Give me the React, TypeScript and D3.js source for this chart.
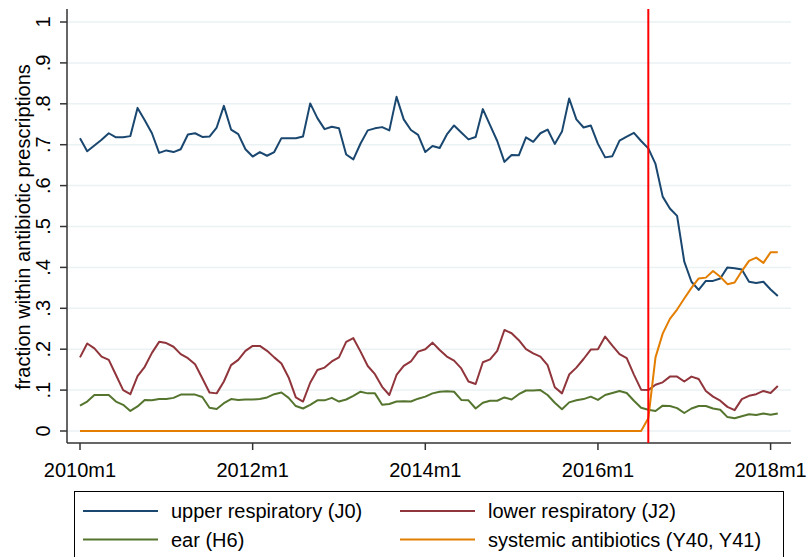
import React from "react";
import * as d3 from "d3";

// monthly shares, 2010m1 .. 2018m2
const upperResp = [
  0.716, 0.684, 0.698, 0.712, 0.728, 0.718, 0.718, 0.721, 0.79, 0.76, 0.728, 0.68,
  0.686, 0.682, 0.689, 0.725, 0.728, 0.719, 0.72, 0.742, 0.795, 0.737, 0.726, 0.689,
  0.671, 0.682, 0.673, 0.682, 0.716, 0.716, 0.716, 0.72, 0.801, 0.765, 0.738, 0.744,
  0.74, 0.676, 0.664, 0.703, 0.735, 0.74, 0.743, 0.735, 0.817, 0.762, 0.736, 0.724,
  0.682, 0.697, 0.692, 0.725, 0.747, 0.73, 0.713, 0.719, 0.787, 0.748, 0.709, 0.658,
  0.675, 0.674, 0.718, 0.707, 0.728, 0.737, 0.702, 0.732, 0.813, 0.762, 0.742, 0.747,
  0.702, 0.669, 0.672, 0.71, 0.72, 0.729, 0.709, 0.691, 0.653, 0.573, 0.544, 0.526,
  0.414, 0.365, 0.345, 0.367, 0.367, 0.373, 0.4, 0.398, 0.395, 0.365, 0.362, 0.365,
  0.346, 0.33,
];
const lowerResp = [
  0.18, 0.214, 0.202, 0.182, 0.174, 0.137, 0.1, 0.09, 0.134, 0.157, 0.191, 0.218,
  0.215, 0.206, 0.188, 0.178, 0.163, 0.129, 0.094, 0.092, 0.121, 0.161, 0.174, 0.196,
  0.208, 0.208, 0.196, 0.18, 0.165, 0.131, 0.082, 0.072, 0.118, 0.149, 0.155, 0.17,
  0.18, 0.218, 0.227, 0.194, 0.159, 0.139, 0.108, 0.088, 0.137, 0.159, 0.17, 0.194,
  0.2, 0.216, 0.198, 0.182, 0.172, 0.153, 0.121, 0.115, 0.168, 0.175, 0.196, 0.247,
  0.239, 0.222, 0.2, 0.19, 0.182, 0.161, 0.107, 0.092, 0.138, 0.155, 0.176, 0.199,
  0.2, 0.231, 0.209, 0.188, 0.178, 0.138, 0.101, 0.1, 0.113, 0.119, 0.133, 0.133,
  0.121, 0.133, 0.127, 0.098, 0.084, 0.074, 0.059, 0.051, 0.078, 0.086, 0.09, 0.098,
  0.093, 0.11,
];
const ear = [
  0.062, 0.072, 0.088, 0.088, 0.088, 0.072, 0.064, 0.049, 0.06, 0.076, 0.075, 0.078,
  0.078, 0.081, 0.089, 0.089, 0.089, 0.083, 0.057, 0.054, 0.068, 0.078, 0.076, 0.077,
  0.077, 0.078, 0.082, 0.09, 0.094, 0.081, 0.061, 0.055, 0.064, 0.075, 0.075, 0.081,
  0.072, 0.077, 0.086, 0.096, 0.092, 0.092, 0.064, 0.066, 0.072, 0.073, 0.072, 0.079,
  0.084, 0.092, 0.096, 0.097, 0.096, 0.076, 0.075, 0.055, 0.069, 0.074, 0.074, 0.082,
  0.077, 0.09, 0.099, 0.099, 0.1, 0.088, 0.069, 0.053, 0.07, 0.075, 0.078, 0.084,
  0.076, 0.088, 0.093, 0.098, 0.093, 0.074, 0.057, 0.052, 0.049, 0.062, 0.061, 0.056,
  0.044, 0.055, 0.061, 0.061, 0.055, 0.052, 0.034, 0.031, 0.036, 0.041, 0.039, 0.043,
  0.04, 0.043,
];
const systemic = [
  0, 0, 0, 0, 0, 0, 0, 0, 0, 0, 0, 0,
  0, 0, 0, 0, 0, 0, 0, 0, 0, 0, 0, 0,
  0, 0, 0, 0, 0, 0, 0, 0, 0, 0, 0, 0,
  0, 0, 0, 0, 0, 0, 0, 0, 0, 0, 0, 0,
  0, 0, 0, 0, 0, 0, 0, 0, 0, 0, 0, 0,
  0, 0, 0, 0, 0, 0, 0, 0, 0, 0, 0, 0,
  0, 0, 0, 0, 0, 0, 0, 0.031, 0.18, 0.238, 0.274, 0.297,
  0.324, 0.35, 0.373, 0.375, 0.391, 0.377, 0.359, 0.363, 0.391, 0.416, 0.424, 0.411,
  0.437, 0.437,
];

const seriesNames = [
  "upper respiratory (J0)",
  "lower respiratory (J2)",
  "ear (H6)",
  "systemic antibiotics (Y40, Y41)",
];
const xTickMonths = [0, 24, 48, 72, 96];
const xTickLabels = ["2010m1", "2012m1", "2014m1", "2016m1", "2018m1"];
const yTicks = [0, 0.1, 0.2, 0.3, 0.4, 0.5, 0.6, 0.7, 0.8, 0.9, 1];
const yTickLabels = ["0", ".1", ".2", ".3", ".4", ".5", ".6", ".7", ".8", ".9", "1"];
const policyMonth = 79; // 2016m8

const W = 808;
const H = 557;
const FONT = "'Liberation Sans', Arial, sans-serif";

export default function App() {
  const left = 67;
  const right = 791;
  const bottom = 443;

  const x = d3.scaleLinear().domain([0, 96]).range([80, 770.6]);
  const y = d3.scaleLinear().domain([0, 1]).range([431, 22]);

  const colors = d3
    .scaleOrdinal<string, string>()
    .domain(seriesNames)
    .range(["#1a476f", "#90353b", "#55752f", "#e37e00"]);

  const allSeries = [upperResp, lowerResp, ear, systemic];
  const line = d3
    .line<number>()
    .x((_, i) => x(i))
    .y((d) => y(d));

  // legend: two columns, two rows
  const legendCols = [83, 400];
  const legendRows = [511, 539.5];

  return (
    <svg
      width={W}
      height={H}
      style={{ position: "absolute", left: 0, top: 0, background: "#fff" }}
      fontFamily={FONT}
    >
      {/* grid */}
      {yTicks.map((t) => (
        <line key={"g" + t} x1={left} x2={right} y1={y(t)} y2={y(t)} stroke="#eaf2f3" strokeWidth={1.5} />
      ))}

      {/* y axis */}
      <line x1={left} x2={left} y1={9} y2={bottom} stroke="#333" strokeWidth={1.5} />
      {yTicks.map((t, i) => (
        <g key={"y" + t}>
          <line x1={left - 7} x2={left} y1={y(t)} y2={y(t)} stroke="#333" strokeWidth={1.5} />
          <text
            transform={`translate(50,${y(t)}) rotate(-90)`}
            textAnchor="middle"
            fontSize={20}
            fill="#000"
          >
            {yTickLabels[i]}
          </text>
        </g>
      ))}
      <text
        transform="translate(29.5,227) rotate(-90)"
        textAnchor="middle"
        fontSize={20}
        fill="#000"
      >
        fraction within antibiotic prescriptions
      </text>

      {/* x axis */}
      <line x1={left} x2={right} y1={bottom} y2={bottom} stroke="#333" strokeWidth={1.5} />
      {xTickMonths.map((m, i) => (
        <g key={"x" + m}>
          <line x1={x(m)} x2={x(m)} y1={bottom} y2={bottom + 7} stroke="#333" strokeWidth={1.5} />
          <text x={x(m)} y={476.5} textAnchor="middle" fontSize={20} fill="#000">
            {xTickLabels[i]}
          </text>
        </g>
      ))}

      {/* series */}
      {allSeries.map((s, i) => (
        <path
          key={seriesNames[i]}
          d={line(s) || ""}
          fill="none"
          stroke={colors(seriesNames[i])}
          strokeWidth={2}
          strokeLinejoin="round"
        />
      ))}

      {/* policy line */}
      <line
        x1={x(policyMonth)}
        x2={x(policyMonth)}
        y1={9}
        y2={bottom}
        stroke="#ff0000"
        strokeWidth={2}
      />

      {/* legend */}
      <rect x={74.5} y={491.5} width={709} height={80} fill="#fff" stroke="#000" strokeWidth={1} />
      {seriesNames.map((name, i) => {
        const cx = legendCols[i % 2];
        const cy = legendRows[Math.floor(i / 2)];
        return (
          <g key={"l" + name}>
            <line x1={cx} x2={cx + 75} y1={cy} y2={cy} stroke={colors(name)} strokeWidth={2} />
            <text x={cx + 88} y={cy + 7.3} fontSize={20} fill="#000">
              {name}
            </text>
          </g>
        );
      })}
    </svg>
  );
}
